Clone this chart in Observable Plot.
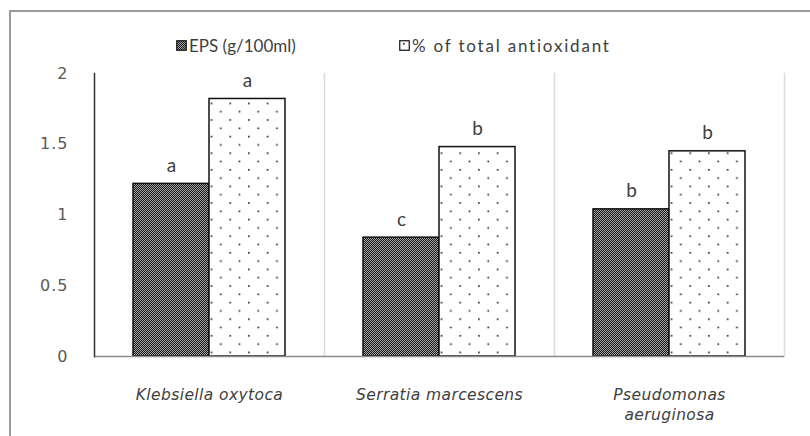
<!DOCTYPE html>
<html>
<head>
<meta charset="utf-8">
<script src="https://cdn.jsdelivr.net/npm/d3@7"></script>
<script src="https://cdn.jsdelivr.net/npm/@observablehq/plot@0.6"></script>
<style>
  html, body { margin: 0; padding: 0; background: #fff; }
  #wrap { position: relative; width: 810px; height: 436px; overflow: hidden; background: #fff; font-family: Lato, sans-serif; }
  #border { position: absolute; left: 9px; top: 10px; width: 900px; height: 600px; border-top: 2px solid #9a9a9a; border-left: 2px solid #9a9a9a; }
  #chart { position: absolute; left: 0; top: 0; }
  #legend { position: absolute; left: 0; top: 35px; width: 810px; height: 24px; color: #404040; font-size: 17px; white-space: nowrap; }
  #legend .item { position: absolute; top: 0; display: flex; align-items: center; }
  #legend svg { margin-right: 2px; }
  g[aria-label="fx-axis tick label"] text { letter-spacing: 0.4px; }
  g[aria-label="y-axis tick label"] text { letter-spacing: 1px; }
</style>
</head>
<body>
<svg width="0" height="0" style="position:absolute">
  <defs>
    <pattern id="pat-dark" patternUnits="userSpaceOnUse" width="2" height="2">
      <rect width="2" height="2" fill="#a8a8a8"></rect>
      <rect x="0" y="0" width="1" height="1" fill="#151515"></rect>
      <rect x="1" y="1" width="1" height="1" fill="#151515"></rect>
    </pattern>
    <pattern id="pat-dots" patternUnits="userSpaceOnUse" width="18.7" height="16.6">
      <rect width="18.7" height="16.6" fill="#ffffff"></rect>
      <rect x="4" y="3" width="1.6" height="1.6" fill="#1a1a1a"></rect>
      <rect x="13.35" y="11.3" width="1.6" height="1.6" fill="#1a1a1a"></rect>
    </pattern>
  </defs>
</svg>
<div id="wrap">
  <div id="border"></div>
  <div id="chart"></div>
  <div id="legend"></div>
</div>
<script>
const species = ["Klebsiella oxytoca", "Serratia marcescens", "Pseudomonas aeruginosa"];
const speciesLabels = ["Klebsiella oxytoca", "Serratia marcescens", "Pseudomonas\naeruginosa"];
const series = ["EPS (g/100ml)", "% of total antioxidant"];
const epsValues = [1.22, 0.84, 1.04];
const antioxValues = [1.82, 1.48, 1.45];
const epsLetters = ["a", "c", "b"];
const antioxLetters = ["a", "b", "b"];
const yTicks = [0, 0.5, 1, 1.5, 2];
const yTickLabels = ["0", "0.5", "1", "1.5", "2"];
const seriesFills = ["url(#pat-dark)", "url(#pat-dots)"];

const rows = species.flatMap((s, i) => [
  {species: s, series: series[0], value: epsValues[i], letter: epsLetters[i]},
  {species: s, series: series[1], value: antioxValues[i], letter: antioxLetters[i]}
]);

const chart = Plot.plot({
  width: 810,
  height: 436,
  marginTop: 73,
  marginBottom: 80,
  marginLeft: 93,
  marginRight: 25,
  style: {fontFamily: "Lato, sans-serif", fontSize: "16px", color: "#595959", background: "transparent"},
  fx: {domain: species, padding: 0, label: null},
  x: {domain: series, paddingInner: 0, paddingOuter: 0.5, axis: null},
  y: {domain: [0, 2], label: null},
  marks: [
    Plot.frame({anchor: "right", stroke: "#dcdcdc", strokeWidth: 1.5}),
    Plot.barY(rows.filter(d => d.series === series[0]), {fx: "species", x: "series", y: "value", fill: seriesFills[0], stroke: "#111", strokeWidth: 1.5}),
    Plot.barY(rows.filter(d => d.series === series[1]), {fx: "species", x: "series", y: "value", fill: seriesFills[1], stroke: "#111", strokeWidth: 1.5}),
    Plot.ruleY([0], {stroke: "#8a8a8a", strokeWidth: 1.5}),
    Plot.frame({anchor: "left", facet: "super", stroke: "#333", strokeWidth: 1.5}),
    Plot.text(rows, {fx: "species", x: "series", y: "value", text: "letter", lineAnchor: "bottom", dy: -12, fontSize: 19, fill: "#404040"}),
    Plot.axisY(yTicks, {tickSize: 0, tickPadding: 26, tickFormat: d => yTickLabels[yTicks.indexOf(d)], fontFamily: "DejaVu Sans", fontSize: 16, fill: "#595959", label: null}),
    Plot.axisFx({anchor: "bottom", tickSize: 0, tickPadding: 29, lineHeight: 1.3, fontFamily: "DejaVu Sans", fontStyle: "italic", fontSize: 15.5, fill: "#404040", tickFormat: d => speciesLabels[species.indexOf(d)], label: null})
  ]
});
document.getElementById("chart").appendChild(chart);

const legendLefts = [176, 399];
const legendSpacing = ["0px", "1.8px"];
const legend = d3.select("#legend");
series.forEach((s, i) => {
  const item = legend.append("div").attr("class", "item").style("left", legendLefts[i] + "px");
  const sw = item.append("svg").attr("width", 11).attr("height", 11);
  sw.append("rect").attr("x", 0.75).attr("y", 0.75).attr("width", 9.5).attr("height", 9.5)
    .attr("fill", seriesFills[i]).attr("stroke", "#111").attr("stroke-width", 1.2);
  item.append("span").style("letter-spacing", legendSpacing[i]).text(s);
});
</script>
</body>
</html>
